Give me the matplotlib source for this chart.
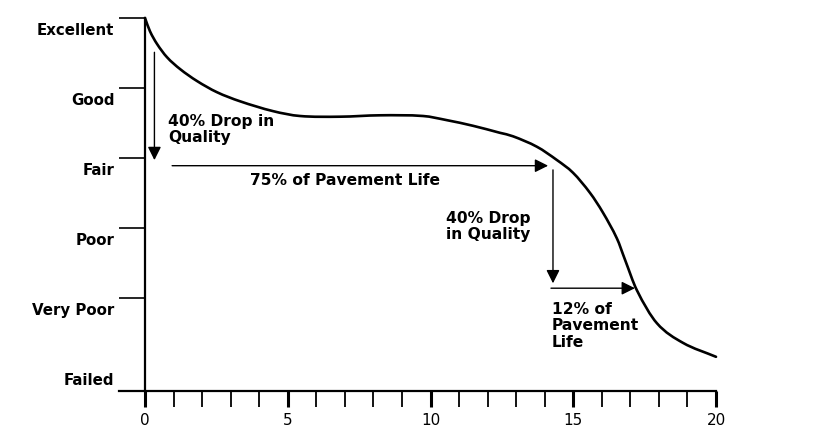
import matplotlib
matplotlib.use("Agg")
import matplotlib.pyplot as plt
from matplotlib.ticker import MultipleLocator, FixedLocator
from matplotlib.path import Path
from matplotlib.patches import PathPatch

# Condition rating over pavement age
age = [0, 0.175, 0.42, 0.77, 1.23, 1.82, 2.52, 3.33, 4.48, 5.43, 6.83, 8.23,
       9.74, 10.58, 11.49, 12.43, 12.89, 13.73, 14.43, 14.99, 15.59, 16.04,
       16.53, 16.81, 17.23, 17.93, 18.84, 20]
condition = [5, 4.81, 4.63, 4.44, 4.27, 4.10, 3.94, 3.81, 3.67, 3.60, 3.59, 3.61,
             3.60, 3.54, 3.46, 3.36, 3.31, 3.16, 2.97, 2.79, 2.50, 2.22,
             1.85, 1.55, 1.11, 0.64, 0.36, 0.16]

quality_labels = ['Excellent', 'Good', 'Fair', 'Poor', 'Very Poor', 'Failed']
quality_levels = [5, 4, 3, 2, 1, 0]

# Annotation arrows: (x_start, y_start, x_end, y_end)
arrows = [
    (0.33, 4.51, 0.33, 2.97),
    (0.95, 2.89, 14.12, 2.89),
    (14.29, 2.83, 14.29, 1.21),
    (14.22, 1.14, 17.16, 1.14),
]
notes = [
    (0.8, 3.63, '40% Drop in\nQuality', 'left'),
    (7.0, 2.78, '75% of Pavement Life', 'center'),
    (10.55, 2.24, '40% Drop\nin Quality', 'left'),
    (14.25, 0.94, '12% of\nPavement\nLife', 'left'),
]

plt.rcParams['font.family'] = ['DejaVu Sans']

fig = plt.figure(figsize=(8.4, 4.4), dpi=100)
ax = fig.add_axes([119 / 840, 49 / 440, (716 - 119) / 840, (391 - 18) / 440])

# smooth line through the read points (cubic hermite drawn as bezier segments)
n = len(age)
slopes = []
for i in range(n):
    a = max(i - 1, 0)
    b = min(i + 1, n - 1)
    slopes.append((condition[b] - condition[a]) / (age[b] - age[a]))
verts = [(age[0], condition[0])]
codes = [Path.MOVETO]
for i in range(n - 1):
    h = age[i + 1] - age[i]
    verts += [(age[i] + h / 3, condition[i] + slopes[i] * h / 3),
              (age[i + 1] - h / 3, condition[i + 1] - slopes[i + 1] * h / 3),
              (age[i + 1], condition[i + 1])]
    codes += [Path.CURVE4] * 3
ax.add_patch(PathPatch(Path(verts, codes), facecolor='none', edgecolor='black',
                       lw=1.9, clip_on=False, capstyle='round'))

for x0, y0, x1, y1 in arrows:
    ax.annotate('', xy=(x1, y1), xytext=(x0, y0),
                arrowprops=dict(arrowstyle='-|>', color='black', lw=1.0,
                                mutation_scale=20, shrinkA=0, shrinkB=0))

for x, y, s, ha in notes:
    ax.text(x, y, s, ha=ha, va='top', fontsize=11.2, fontweight='bold',
            linespacing=1.1)

ax.set_xlim(-26 / 28.55, 20)
ax.set_ylim(-23 / 70, 5)

for side in ['top', 'right']:
    ax.spines[side].set_visible(False)
ax.spines['left'].set_position(('data', 0))
ax.spines['left'].set_linewidth(1.6)
ax.spines['bottom'].set_linewidth(1.6)

# y: boundary ticks without labels, category labels between them
ax.yaxis.set_major_locator(FixedLocator([5, 4, 3, 2, 1]))
ax.set_yticklabels([], minor=False)
ax.set_yticks([v - 0.157 for v in quality_levels], quality_labels, minor=True)
ax.tick_params(axis='y', which='major', direction='out', length=19, width=1.2)
ax.tick_params(axis='y', which='minor', length=0, pad=22, labelsize=10.8)
for lbl in ax.get_yticklabels(minor=True):
    lbl.set_fontweight('bold')

# x: ages in years
ax.xaxis.set_major_locator(MultipleLocator(5))
ax.xaxis.set_minor_locator(MultipleLocator(1))
ax.tick_params(axis='x', which='major', direction='out', length=11.5, width=2.2,
               labelsize=11, pad=4)
ax.tick_params(axis='x', which='minor', direction='out', length=11.5, width=1.3)

fig.savefig('out.png', dpi=100)
